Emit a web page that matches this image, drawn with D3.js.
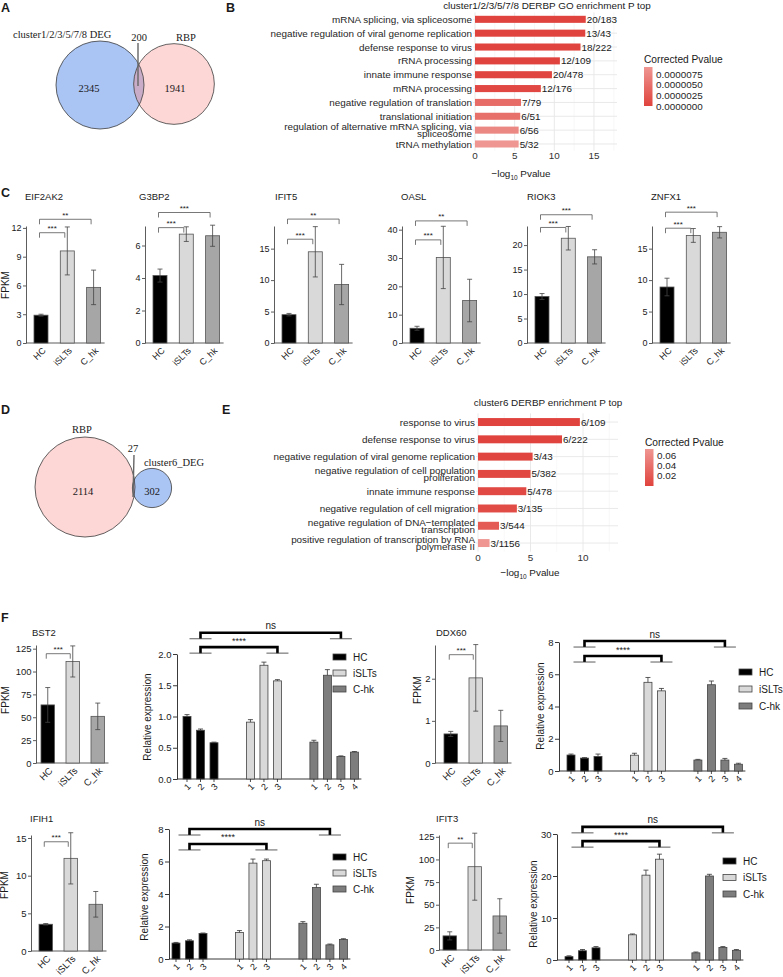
<!DOCTYPE html>
<html>
<head>
<meta charset="utf-8">
<script src="https://cdn.jsdelivr.net/npm/d3@7"></script>
<style>
  body { margin: 0; background: #fff; }
  svg { display: block; }
  text { font-family: "Liberation Sans", Arial, Helvetica, sans-serif; fill: #1a1a1a; }
</style>
</head>
<body>
<svg id="fig" width="783" height="977"></svg>
<script>
// ---------------- data ----------------
// venn A / D
var vennASets = ["cluster1/2/3/5/7/8 DEG", "RBP"];
var vennACounts = [2345, 200, 1941];
var vennDSets = ["RBP", "cluster6_DEG"];
var vennDCounts = [2114, 27, 302];

// panel B GO terms
var termsB = ["mRNA splicing, via spliceosome", "negative regulation of viral genome replication",
  "defense response to virus", "rRNA processing", "innate immune response", "mRNA processing",
  "negative regulation of translation", "translational initiation",
  "regulation of alternative mRNA splicing, via\nspliceosome", "tRNA methylation"];
var logPB = [13.96, 13.9, 13.3, 10.7, 9.7, 8.3, 5.8, 5.7, 5.5, 5.5];
var ratioB = ["20/183", "13/43", "18/222", "12/109", "20/478", "12/176", "7/79", "6/51", "6/56", "5/32"];
var padjB = [1e-11, 4e-10, 6e-10, 4e-8, 2e-7, 6e-7, 4.5e-6, 5e-6, 7.6e-6, 9.2e-6];
var legendTicksB = [0, 0.0000025, 0.000005, 0.0000075];

// panel E GO terms
var termsE = ["response to virus", "defense response to virus", "negative regulation of viral genome replication",
  "negative regulation of cell population\nproliferation", "innate immune response",
  "negative regulation of cell migration", "negative regulation of DNA\u2212templated\ntranscription",
  "positive regulation of transcription by RNA\npolymerase II"];
var logPE = [9.7, 8.0, 5.2, 5.0, 4.6, 3.7, 2.0, 1.1];
var ratioE = ["6/109", "6/222", "3/43", "5/382", "5/478", "3/135", "3/544", "3/1156"];
var padjE = [1e-7, 5e-6, 0.002, 0.004, 0.006, 0.008, 0.02, 0.072];
var legendTicksE = [0.02, 0.04, 0.06];

// panel C FPKM
var fpkmGroups = ["HC", "iSLTs", "C_hk"];
var genesC = ["EIF2AK2", "G3BP2", "IFIT5", "OASL", "RIOK3", "ZNFX1"];
var meanC = [[2.9, 9.6, 5.8], [4.15, 6.7, 6.6], [4.5, 14.5, 9.3], [5.2, 30.2, 15], [9.5, 21.4, 17.6], [8.9, 17.1, 17.6]];
var errC = [[0.1, 2.5, 1.8], [0.4, 0.45, 0.65], [0.2, 4.0, 3.2], [0.7, 11, 7.5], [0.6, 2.4, 1.45], [1.4, 1.1, 0.9]];
var yMaxC = [12.2, 7.2, 18.6, 41.3, 23.9, 18.6];
var ticksC = [[0, 3, 6, 9, 12], [0, 2, 4, 6], [0, 5, 10, 15], [0, 10, 20, 30, 40], [0, 5, 10, 15, 20], [0, 5, 10, 15]];
var sigC = [["***", "**"], ["***", "***"], ["***", "**"], ["***", "**"], ["***", "***"], ["***", "***"]];
var sigYC = [[11.5, 12.9], [7.1, 8.03], [16.5, 19.7], [36.4, 43.1], [23.6, 26.2], [18.25, 20.8]];

// panel F FPKM
var genesF = ["BST2", "DDX60", "IFIH1", "IFIT3"];
var meanF = [[63.5, 111, 51], [0.69, 2.02, 0.88], [3.55, 12.3, 6.2], [15.6, 92, 37.6]];
var errF = [[19, 17, 14.5], [0.06, 0.79, 0.37], [0.1, 3.4, 1.7], [4.5, 37, 19]];
var yMaxF = [129, 2.8, 15.4, 127];
var ticksF = [[0, 25, 50, 75, 100, 125], [0, 1, 2], [0, 5, 10, 15], [0, 25, 50, 75, 100, 125]];
var sigF = ["***", "***", "***", "**"];
var sigYF = [119.5, 2.57, 14.5, 118];

// panel F relative expression (qPCR)
var relGroups = ["HC", "iSLTs", "C-hk"];
var relReps = [["1", "2", "3"], ["1", "2", "3"], ["1", "2", "3", "4"]];
var relMean = [
  [[1.0, 0.78, 0.58], [0.91, 1.82, 1.57], [0.59, 1.66, 0.36, 0.43]],
  [[0.99, 0.8, 0.9], [0.98, 5.5, 4.97], [0.68, 5.35, 0.68, 0.42]],
  [[0.98, 1.12, 1.57], [1.63, 5.9, 6.05], [2.2, 4.4, 0.87, 1.2]],
  [[0.8, 2.2, 2.9], [6.0, 20.2, 24], [1.7, 20, 3.0, 2.3]]
];
var relErr = [
  [[0.03, 0.02, 0.01], [0.04, 0.05, 0.02], [0.03, 0.09, 0.01, 0.01]],
  [[0.06, 0.03, 0.15], [0.12, 0.3, 0.15], [0.04, 0.23, 0.1, 0.06]],
  [[0.04, 0.06, 0.03], [0.12, 0.25, 0.1], [0.1, 0.2, 0.05, 0.05]],
  [[0.2, 0.3, 0.3], [0.2, 1.2, 1.2], [0.2, 0.4, 0.2, 0.2]]
];
var relYMax = [2, 8, 8, 30];
var relTicks = [[0, 0.5, 1, 1.5, 2], [0, 2, 4, 6, 8], [0, 2, 4, 6, 8], [0, 10, 20, 30]];
var relSigLabels = ["ns", "****"];
var relSigY = [[2.34, 2.11], [8.06, 7.13], [8.0, 7.08], [31.7, 28.3]];

// ---------------- drawing ----------------
var svg = d3.select("#fig");
svg.append("rect").attr("width", 783).attr("height", 977).attr("fill", "#fff");
var SERIF = '"Liberation Serif", "Times New Roman", serif';

function text(g, x, y, s, size, anchor) {
  return g.append("text").attr("x", x).attr("y", y).text(s)
    .style("font-size", size + "px").attr("text-anchor", anchor || "start");
}

// panel letters
[["A", 1, 12], ["B", 226, 12], ["C", 1, 197], ["D", 1, 414], ["E", 222, 414], ["F", 1, 622]].forEach(function(p) {
  text(svg, p[1], p[2], p[0], 12.5).style("font-weight", "bold");
});

// ---- venn ----
function venn(o) {
  var g = svg.append("g");
  var r = d3.scaleSqrt().domain([0, o.refTotal]).range([0, o.refR]);
  var r1 = r(o.counts[0] + o.counts[1]), r2 = r(o.counts[1] + o.counts[2]);
  g.append("clipPath").attr("id", o.id).append("circle")
    .attr("cx", o.c2[0]).attr("cy", o.c2[1]).attr("r", r2);
  g.append("circle").attr("cx", o.c1[0]).attr("cy", o.c1[1]).attr("r", r1).attr("fill", o.fill1);
  g.append("circle").attr("cx", o.c2[0]).attr("cy", o.c2[1]).attr("r", r2).attr("fill", o.fill2);
  g.append("circle").attr("cx", o.c1[0]).attr("cy", o.c1[1]).attr("r", r1)
    .attr("fill", o.fillMix).attr("clip-path", "url(#" + o.id + ")");
  [[o.c1, r1], [o.c2, r2]].forEach(function(c) {
    g.append("circle").attr("cx", c[0][0]).attr("cy", c[0][1]).attr("r", c[1])
      .attr("fill", "none").attr("stroke", "#3c3c3c").attr("stroke-width", 0.8);
  });
  g.append("line").attr("x1", o.line[0]).attr("y1", o.line[1]).attr("x2", o.line[2]).attr("y2", o.line[3])
    .attr("stroke", "#666").attr("stroke-width", 1.4);
  var t;
  t = text(g, o.setPos[0][0], o.setPos[0][1], o.sets[0], 10.5, o.setPos[0][2]); t.style("font-family", SERIF);
  t = text(g, o.setPos[1][0], o.setPos[1][1], o.sets[1], 10.5, o.setPos[1][2]); t.style("font-family", SERIF);
  o.countPos.forEach(function(p, i) {
    text(g, p[0], p[1], o.counts[i], 10.5, "middle").style("font-family", SERIF);
  });
}

venn({ id: "clipA", counts: vennACounts, sets: vennASets, refTotal: 2545, refR: 44,
  c1: [100, 85], c2: [174, 84], fill1: "#aac4f4", fill2: "#fdd6d6", fillMix: "#c9adc8",
  line: [138, 43, 138, 86], setPos: [[13, 38, "start"], [186, 41, "middle"]],
  countPos: [[89, 92], [139, 41], [175, 92]] });

venn({ id: "clipD", counts: vennDCounts, sets: vennDSets, refTotal: 2141, refR: 50,
  c1: [85, 487], c2: [152, 488], fill1: "#fdd6d6", fill2: "#aac4f4", fillMix: "#c3b0cf",
  line: [134, 455, 133, 497], setPos: [[82, 433, "middle"], [174, 466, "middle"]],
  countPos: [[83, 495], [133, 452], [152, 495]] });

// ---- GO enrichment bars ----
function goChart(o) {
  var g = svg.append("g");
  var x = d3.scaleLinear().domain([0, o.xMax]).range([o.x0, o.x1]);
  var y = d3.scaleBand().domain(o.terms).range([o.y0, o.y1]).paddingInner(o.pad).paddingOuter(o.pad / 2);
  var col = d3.scaleLinear().domain(d3.extent(o.padj)).range(["#e0433d", "#ef9692"]);

  g.selectAll(".mn").data(o.minor).enter().append("line")
    .attr("x1", x).attr("x2", x).attr("y1", o.y0).attr("y2", o.y1)
    .attr("stroke", "#f3f3f3").attr("stroke-width", 0.6);
  g.selectAll(".mj").data(o.ticks).enter().append("line")
    .attr("x1", x).attr("x2", x).attr("y1", o.y0).attr("y2", o.y1)
    .attr("stroke", "#e6e6e6").attr("stroke-width", 0.9);
  g.selectAll(".hz").data(o.terms).enter().append("line")
    .attr("x1", o.x0 - 2).attr("x2", o.x1)
    .attr("y1", function(d) { return y(d) + y.bandwidth() / 2; })
    .attr("y2", function(d) { return y(d) + y.bandwidth() / 2; })
    .attr("stroke", "#e6e6e6").attr("stroke-width", 0.9);

  g.selectAll(".bar").data(o.terms).enter().append("rect")
    .attr("x", x(0)).attr("y", function(d) { return y(d); })
    .attr("width", function(d, i) { return x(o.logP[i]) - x(0); })
    .attr("height", y.bandwidth())
    .attr("fill", function(d, i) { return col(o.padj[i]); });

  g.selectAll(".rt").data(o.terms).enter().append("text")
    .attr("x", function(d, i) { return x(o.logP[i]) + 1; })
    .attr("y", function(d) { return y(d) + y.bandwidth() / 2; })
    .attr("dy", "0.36em").style("font-size", o.fs + "px")
    .text(function(d, i) { return o.ratio[i]; });

  o.terms.forEach(function(t) {
    var lines = t.split("\n");
    var cy = y(t) + y.bandwidth() / 2;
    lines.forEach(function(l, k) {
      var off = lines.length === 1 ? 0 : (k === 0 ? -3.8 : 3.8);
      text(g, o.x0 - 3, cy + off, l, o.fs, "end").attr("dy", "0.36em").style("fill", "#262626");
    });
  });

  g.selectAll(".tk").data(o.ticks).enter().append("text")
    .attr("x", x).attr("y", o.tickY).attr("text-anchor", "middle")
    .style("font-size", o.fs + "px").style("fill", "#333").text(function(d) { return d; });

  var at = g.append("text").attr("x", o.axisTitle[0]).attr("y", o.axisTitle[1])
    .attr("text-anchor", "middle").style("font-size", o.fs + "px");
  at.append("tspan").text("\u2212log");
  at.append("tspan").attr("dy", 2.5).style("font-size", "6.5px").text("10");
  at.append("tspan").attr("dy", -2.5).text(" Pvalue");

  text(g, o.title[0], o.title[1], o.titleText, o.fs, "middle");

  // colour legend
  var gid = o.id + "grad";
  var grad = svg.append("defs").append("linearGradient").attr("id", gid)
    .attr("x1", 0).attr("y1", 1).attr("x2", 0).attr("y2", 0);
  grad.append("stop").attr("offset", 0).attr("stop-color", col(col.domain()[0]));
  grad.append("stop").attr("offset", 1).attr("stop-color", col(col.domain()[1]));
  var L = o.legend;
  text(g, L.x, L.titleY, "Corrected Pvalue", o.fs + 0.3);
  g.append("rect").attr("x", L.x).attr("y", L.y0).attr("width", 8.5).attr("height", L.y1 - L.y0)
    .attr("fill", "url(#" + gid + ")");
  var ly = d3.scaleLinear().domain(col.domain()).range([L.y1, L.y0]);
  g.selectAll(".lt").data(o.legendTicks).enter().append("text")
    .attr("x", L.x + 12).attr("y", ly).attr("dy", "0.36em")
    .style("font-size", o.fs + "px").style("fill", "#262626")
    .text(function(d) { return o.legendFmt(d); });
}

goChart({ id: "B", terms: termsB, logP: logPB, ratio: ratioB, padj: padjB,
  xMax: 17.9, x0: 475, x1: 617, y0: 12.4, y1: 150.9, pad: 0.49, fs: 9.9,
  ticks: [0, 5, 10, 15], minor: [2.5, 7.5, 12.5, 17.5], tickY: 159,
  axisTitle: [521, 177], title: [547, 9], titleText: "cluster1/2/3/5/7/8 DERBP GO enrichment P top",
  legend: { x: 644, titleY: 63, y0: 67, y1: 106 }, legendTicks: legendTicksB,
  legendFmt: d3.format(".7f") });

goChart({ id: "E", terms: termsE, logP: logPE, ratio: ratioE, padj: padjE,
  xMax: 13.33, x0: 478, x1: 618, y0: 413.4, y1: 551.7, pad: 0.54, fs: 9.9,
  ticks: [0, 5, 10], minor: [2.5, 7.5, 12.5], tickY: 561,
  axisTitle: [530, 576], title: [548, 406], titleText: "cluster6 DERBP enrichment P top",
  legend: { x: 645, titleY: 446, y0: 449, y1: 486 }, legendTicks: legendTicksE,
  legendFmt: d3.format(".2f") });

// ---- FPKM bar charts ----
var fpkmFill = ["#000000", "#d9d9d9", "#a6a6a6"];

function fpkmChart(o) {
  var g = svg.append("g");
  var y = d3.scaleLinear().domain([0, o.yMax]).range([o.base, o.top]);
  var r0 = o.barX0 - (o.step - o.bw) / 2;
  var x = d3.scaleBand().domain(fpkmGroups).range([r0, r0 + o.step * fpkmGroups.length])
    .paddingInner(1 - o.bw / o.step).paddingOuter((1 - o.bw / o.step) / 2);
  var cx = function(d) { return x(d) + x.bandwidth() / 2; };

  var ax = g.append("g").attr("transform", "translate(" + o.x + ",0)")
    .call(d3.axisLeft(y).tickValues(o.ticks).tickFormat(d3.format("d"))
      .tickSize(3).tickSizeOuter(0).tickPadding(1.5));
  ax.select(".domain").attr("stroke", "#333").attr("stroke-width", 0.8);
  ax.selectAll(".tick line").attr("stroke", "#333").attr("stroke-width", 0.8);
  ax.selectAll("text").style("font-size", o.tfs + "px").style("font-family", null).attr("fill", "#222");

  var last = fpkmGroups[fpkmGroups.length - 1];
  g.append("line").attr("x1", o.x).attr("x2", x(last) + x.bandwidth() + 4)
    .attr("y1", o.base).attr("y2", o.base).attr("stroke", "#333").attr("stroke-width", 0.8);

  g.selectAll(".b").data(fpkmGroups).enter().append("rect")
    .attr("x", function(d) { return x(d); })
    .attr("y", function(d, i) { return y(o.means[i]); })
    .attr("width", x.bandwidth())
    .attr("height", function(d, i) { return o.base - y(o.means[i]); })
    .attr("fill", function(d, i) { return fpkmFill[i]; })
    .attr("stroke", "#555").attr("stroke-width", 0.8);

  fpkmGroups.forEach(function(d, i) {
    var c = cx(d), hi = y(o.means[i] + o.errs[i]), lo = y(Math.max(0, o.means[i] - o.errs[i]));
    g.append("line").attr("x1", c).attr("x2", c).attr("y1", hi).attr("y2", lo)
      .attr("stroke", "#444").attr("stroke-width", 0.8);
    [hi, lo].forEach(function(v) {
      g.append("line").attr("x1", c - 2.5).attr("x2", c + 2.5).attr("y1", v).attr("y2", v)
        .attr("stroke", "#444").attr("stroke-width", 0.8);
    });
    g.append("text").attr("transform", "translate(" + (c + 3) + "," + (o.base + 6) + ") rotate(-45)")
      .attr("text-anchor", "end").attr("dy", "0.35em").style("font-size", o.xfs + "px").text(d);
  });

  o.sig.forEach(function(s, k) {
    var a = cx(fpkmGroups[0]) - 1.5, b = cx(fpkmGroups[k + 1]) - 2.5, yy = y(o.sigY[k]);
    g.append("path").attr("d", "M" + a + "," + (yy + 5) + "V" + yy + "H" + b + "V" + (yy + 5))
      .attr("fill", "none").attr("stroke", "#555").attr("stroke-width", 0.8);
    text(g, (a + b) / 2, yy - 1.5, s, 8, "middle");
  });

  text(g, o.titleX, o.titleY, o.title, 9.5);
}

var cAxisX = [26, 145, 274, 402, 527, 652];
var cTitleX = [25, 139, 275, 401, 527, 651];
genesC.forEach(function(gene, i) {
  fpkmChart({ x: cAxisX[i], base: 343, top: 226, yMax: yMaxC[i], ticks: ticksC[i],
    means: meanC[i], errs: errC[i], sig: sigC[i], sigY: sigYC[i],
    title: gene, titleX: cTitleX[i], titleY: 200,
    barX0: cAxisX[i] + 8, step: 26.3, bw: 14, tfs: 9, xfs: 9 });
});
text(svg, 0, 0, "FPKM", 10, "middle").attr("transform", "translate(9,285) rotate(-90)");

var fAxisX = [36, 435, 31, 439];
var fBase = [763, 763, 951, 950];
var fTop = [645, 645, 835, 835];
var fBarX0 = [41, 444, 39, 443];
var fTitlePos = [[32, 636], [436, 636], [30, 822], [436, 822]];
var fYlabPos = [[9, 700], [421, 690], [8, 885], [414, 890]];
genesF.forEach(function(gene, i) {
  fpkmChart({ x: fAxisX[i], base: fBase[i], top: fTop[i], yMax: yMaxF[i], ticks: ticksF[i],
    means: meanF[i], errs: errF[i], sig: [sigF[i]], sigY: [sigYF[i]],
    title: gene, titleX: fTitlePos[i][0], titleY: fTitlePos[i][1],
    barX0: fBarX0[i], step: 25, bw: 13.5, tfs: 9.5, xfs: 9.5 });
  text(svg, 0, 0, "FPKM", 10, "middle")
    .attr("transform", "translate(" + fYlabPos[i][0] + "," + fYlabPos[i][1] + ") rotate(-90)");
});

// ---- relative expression charts ----
var relFill = ["#000000", "#d9d9d9", "#7d7d7d"];
var groupSlot = [0, 4.7, 9.4];

function relChart(o) {
  var g = svg.append("g");
  var y = d3.scaleLinear().domain([0, o.yMax]).range([o.base, o.top]);
  var x = d3.scaleLinear().domain([0, 1]).range([o.barX0, o.barX0 + 13.5]);
  var bw = 8;
  var bars = [];
  relGroups.forEach(function(gname, gi) {
    relReps[gi].forEach(function(rep, ri) {
      bars.push({ g: gi, r: ri, rep: rep, v: o.mean[gi][ri], e: o.err[gi][ri], slot: groupSlot[gi] + ri });
    });
  });
  var cx = function(slot) { return x(slot) + bw / 2; };

  var ax = g.append("g").attr("transform", "translate(" + o.x + ",0)")
    .call(d3.axisLeft(y).tickValues(o.ticks).tickSize(4).tickSizeOuter(0).tickPadding(1.5)
      .tickFormat(o.fmt));
  ax.select(".domain").attr("stroke", "#222").attr("stroke-width", 0.9);
  ax.selectAll(".tick line").attr("stroke", "#222").attr("stroke-width", 0.9);
  ax.selectAll("text").style("font-size", "9.5px").style("font-family", null).attr("fill", "#222");

  var lastSlot = d3.max(bars, function(b) { return b.slot; });
  g.append("line").attr("x1", o.x).attr("x2", x(lastSlot) + bw + 3)
    .attr("y1", o.base).attr("y2", o.base).attr("stroke", "#222").attr("stroke-width", 0.9);

  g.selectAll(".b").data(bars).enter().append("rect")
    .attr("x", function(d) { return x(d.slot); })
    .attr("y", function(d) { return y(d.v); })
    .attr("width", bw).attr("height", function(d) { return o.base - y(d.v); })
    .attr("fill", function(d) { return relFill[d.g]; })
    .attr("stroke", "#444").attr("stroke-width", 0.8);

  bars.forEach(function(d) {
    var c = cx(d.slot), hi = y(d.v + d.e);
    g.append("line").attr("x1", c).attr("x2", c).attr("y1", hi).attr("y2", y(d.v))
      .attr("stroke", "#333").attr("stroke-width", 0.8);
    g.append("line").attr("x1", c - 2.5).attr("x2", c + 2.5).attr("y1", hi).attr("y2", hi)
      .attr("stroke", "#333").attr("stroke-width", 0.8);
    g.append("line").attr("x1", c).attr("x2", c).attr("y1", o.base).attr("y2", o.base + 3)
      .attr("stroke", "#222").attr("stroke-width", 0.8);
    g.append("text").attr("transform", "translate(" + (c + 2) + "," + (o.base + 6) + ") rotate(-45)")
      .attr("text-anchor", "end").attr("dy", "0.35em").style("font-size", "9px").text(d.rep);
  });

  // brackets: HC rep2 -> C-hk rep3 (ns), HC rep2 -> iSLTs rep3 (****)
  var ends = [[groupSlot[0] + 1, groupSlot[2] + 2], [groupSlot[0] + 1, groupSlot[1] + 2]];
  relSigLabels.forEach(function(s, k) {
    var a = cx(ends[k][0]), b = cx(ends[k][1]), yy = y(o.sigY[k]);
    g.append("path").attr("d", "M" + a + "," + (yy + 6) + "V" + yy + "H" + b + "V" + (yy + 6))
      .attr("fill", "none").attr("stroke", "#000").attr("stroke-width", 2.6);
    [a, b].forEach(function(c) {
      g.append("line").attr("x1", c - 11).attr("x2", c + 11).attr("y1", yy + 6).attr("y2", yy + 6)
        .attr("stroke", "#333").attr("stroke-width", 0.8);
    });
    text(g, (a + b) / 2, yy - 3.5, s, s === "ns" ? 10 : 9, "middle");
  });

  var L = o.legend;
  relGroups.forEach(function(gname, gi) {
    g.append("rect").attr("x", L[0]).attr("y", L[1] + gi * L[2] - 3).attr("width", 13).attr("height", 6)
      .attr("fill", relFill[gi]).attr("stroke", "#444").attr("stroke-width", 0.8);
    text(g, L[0] + 20, L[1] + gi * L[2], gname, 10).attr("dy", "0.36em");
  });

  text(g, 0, 0, "Relative expression", 10, "middle")
    .attr("transform", "translate(" + o.ylab[0] + "," + o.ylab[1] + ") rotate(-90)");
}

var rAxisX = [177, 559, 169, 557];
var rBase = [779, 771, 959, 960];
var rTop = [654, 642, 829, 834];
var rBarX0 = [183, 567, 172, 565];
var rLegend = [[333, 657, 16], [739, 672, 17], [333, 857, 16], [723, 861, 16.5]];
var rYlab = [[151, 717], [544, 706], [148, 897], [537, 904]];
var rFmt = [d3.format(".1f"), d3.format("d"), d3.format("d"), d3.format("d")];
genesF.forEach(function(gene, i) {
  relChart({ x: rAxisX[i], base: rBase[i], top: rTop[i], yMax: relYMax[i], ticks: relTicks[i],
    mean: relMean[i], err: relErr[i], sigY: relSigY[i], barX0: rBarX0[i],
    legend: rLegend[i], ylab: rYlab[i], fmt: rFmt[i] });
});
</script>
</body>
</html>
